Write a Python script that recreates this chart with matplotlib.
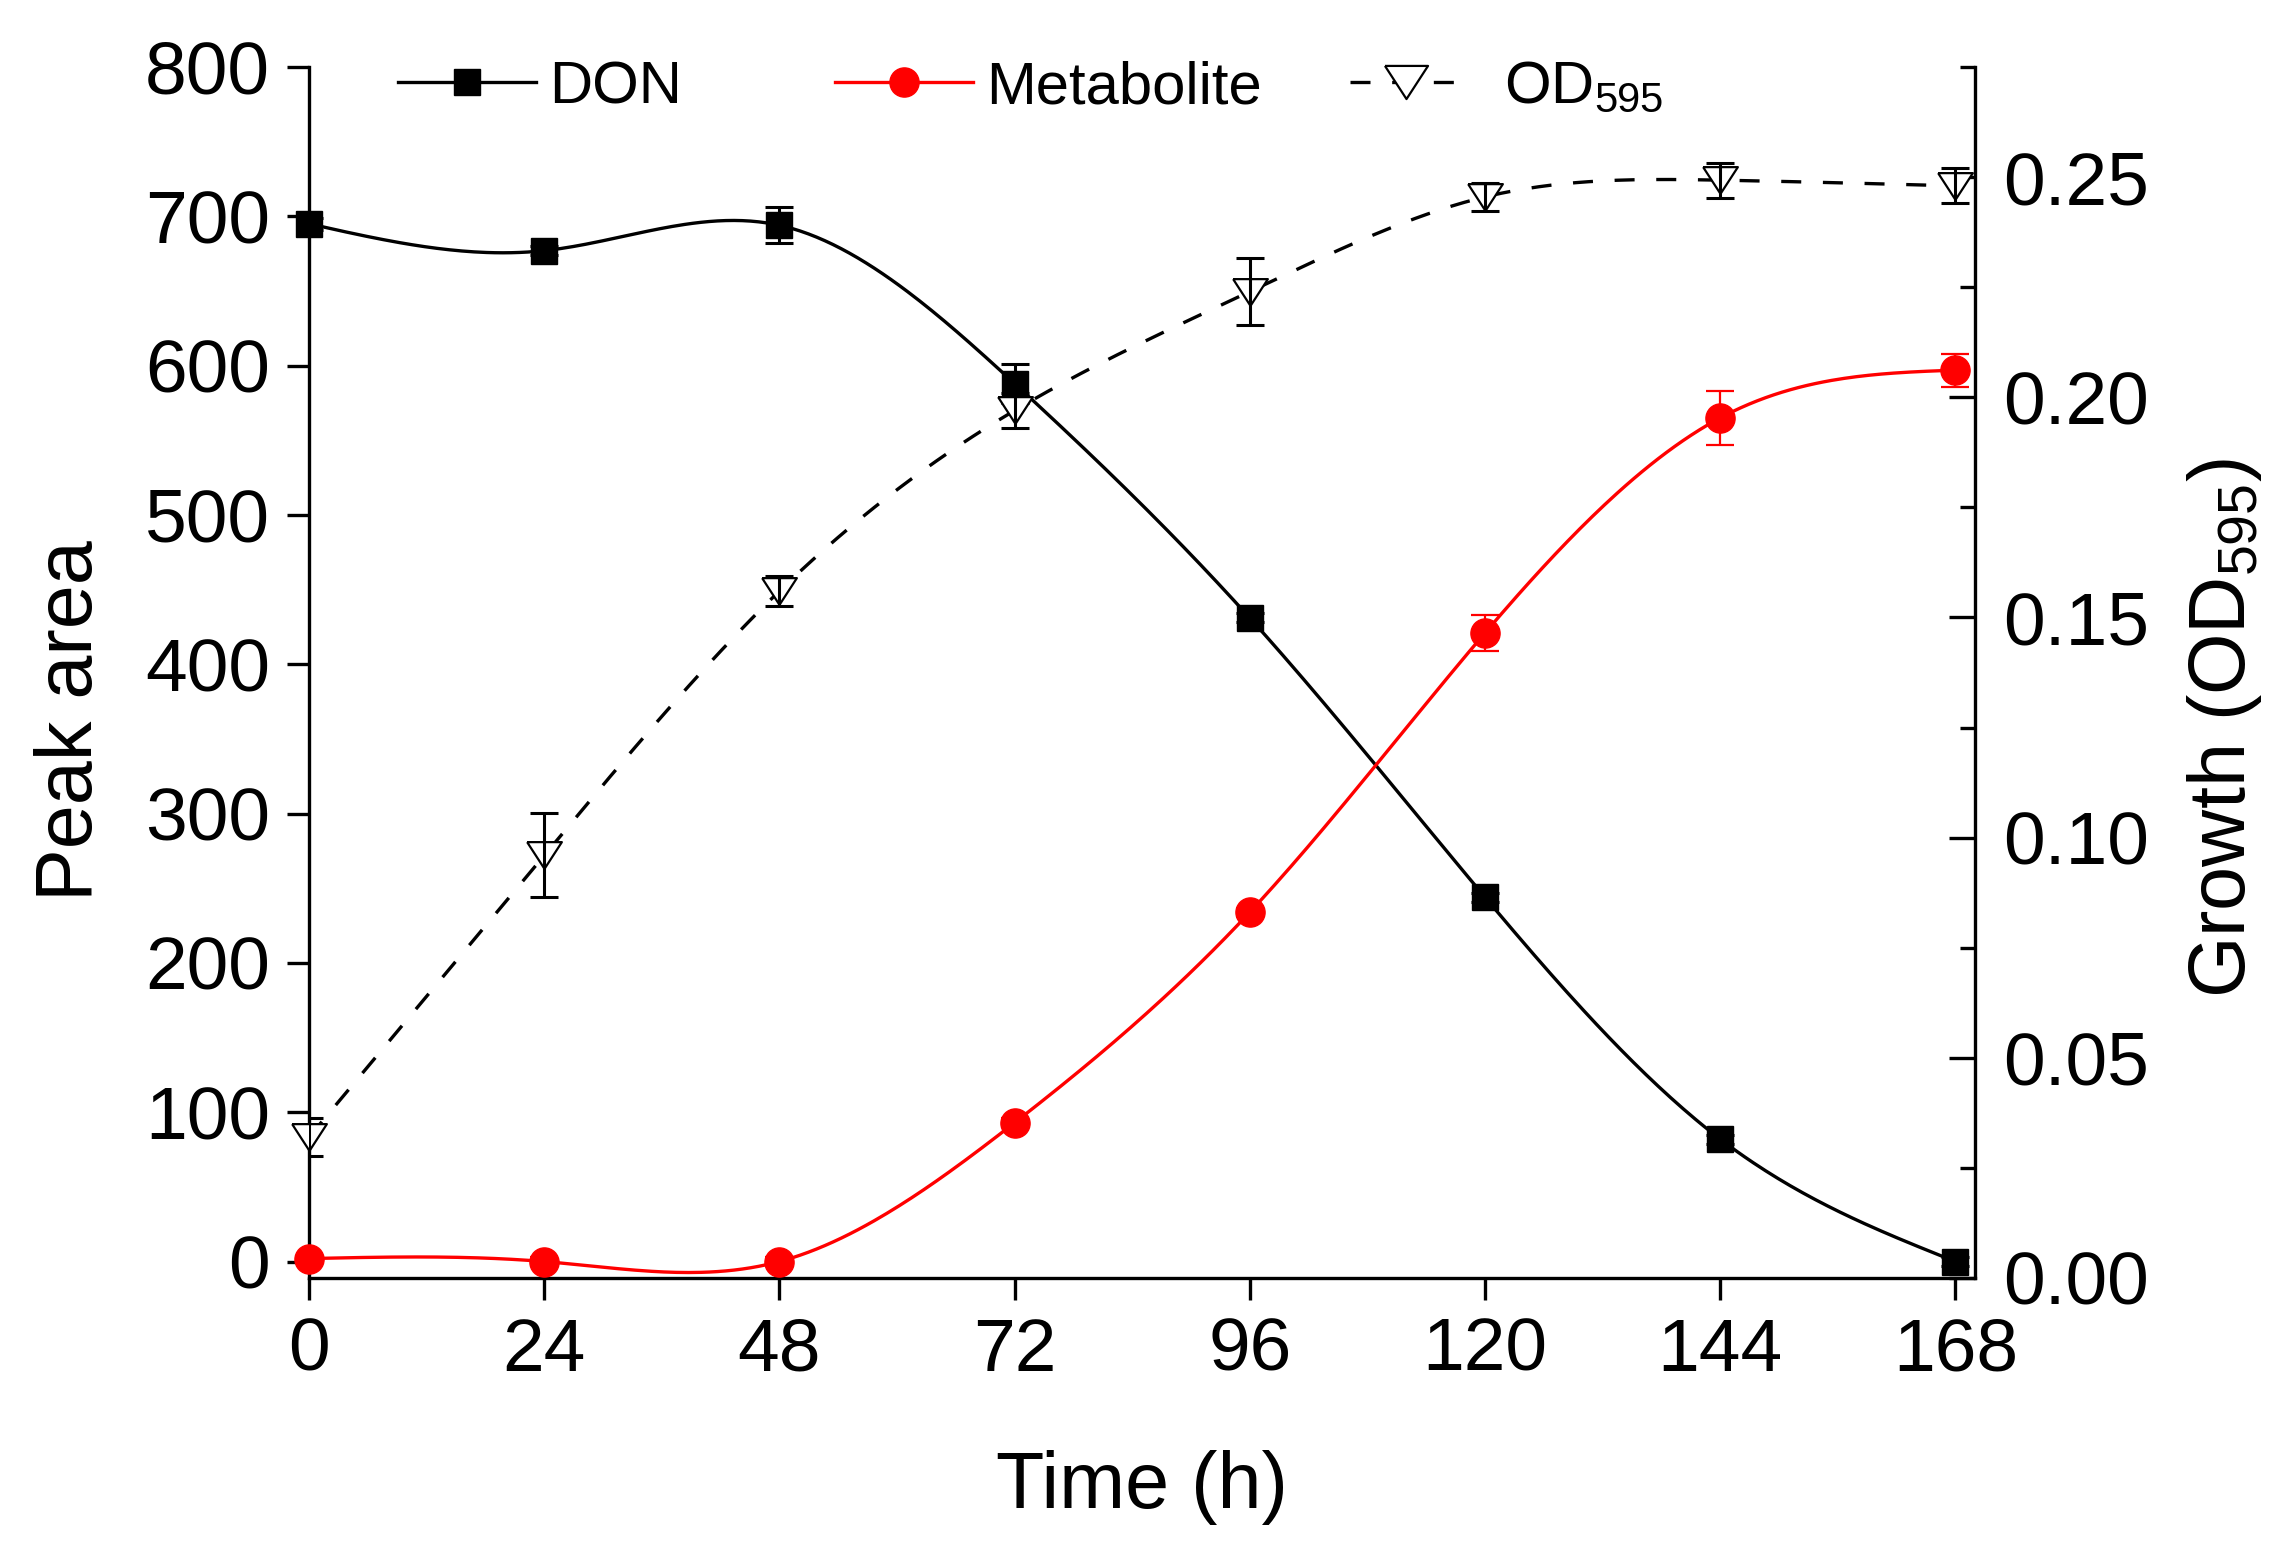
import numpy as np
import matplotlib
matplotlib.use("Agg")
import matplotlib.pyplot as plt
from matplotlib.lines import Line2D
from matplotlib.ticker import MultipleLocator, FormatStrFormatter

plt.rcParams['font.family'] = 'Liberation Sans'
plt.rcParams['mathtext.fontset'] = 'custom'
plt.rcParams['mathtext.rm'] = 'Liberation Sans'
plt.rcParams['mathtext.default'] = 'regular'

# values
time_h = [0, 24, 48, 72, 96, 120, 144, 168]
don = [695, 677, 694, 588, 431, 244, 82, 0]
don_err = [4, 3, 12, 13, 3, 3, 3, 3]
metabolite = [2, 0, 0, 93, 234, 421, 565, 597]
metab_err = [3, 3, 3, 3, 3, 12, 18, 11]
od595 = [0.032, 0.096, 0.156, 0.197, 0.224, 0.2455, 0.2493, 0.248]
od_err = [0.0043, 0.0095, 0.0035, 0.004, 0.0076, 0.0032, 0.004, 0.004]


# natural cubic spline through the points, for the smooth connecting lines
def spline(x, y, num=400):
    x = np.asarray(x, float)
    y = np.asarray(y, float)
    n = len(x)
    h = np.diff(x)
    A = np.zeros((n, n))
    b = np.zeros(n)
    A[0, 0] = A[-1, -1] = 1
    for i in range(1, n - 1):
        A[i, i - 1] = h[i - 1]
        A[i, i] = 2 * (h[i - 1] + h[i])
        A[i, i + 1] = h[i]
        b[i] = 6 * ((y[i + 1] - y[i]) / h[i] - (y[i] - y[i - 1]) / h[i - 1])
    M = np.linalg.solve(A, b)
    xs = np.linspace(x[0], x[-1], num)
    k = np.clip(np.searchsorted(x, xs) - 1, 0, n - 2)
    t1 = x[k + 1] - xs
    t2 = xs - x[k]
    hk = h[k]
    ys = (M[k] * t1**3 + M[k + 1] * t2**3) / (6 * hk) \
        + (y[k] / hk - M[k] * hk / 6) * t1 + (y[k + 1] / hk - M[k + 1] * hk / 6) * t2
    return xs, ys


fig = plt.figure(figsize=(22.96, 15.47), dpi=100)
ax = fig.add_axes([0.1346, 0.1739, 0.7256, 0.7828])
ax2 = ax.twinx()

lw = 2.4
red = '#ff0000'
dash = (0, (6, 6.5))
# flat open triangle, wider than tall
tri = [(-1, 0.77), (1, 0.77), (0, -0.77), (-1, 0.77)]

# DON
xs, ys = spline(time_h, don)
ax.plot(xs, ys, color='k', lw=lw, zorder=3)
ax.errorbar(time_h, don, yerr=don_err, fmt='none', ecolor='k', elinewidth=2.2,
            capsize=10, capthick=2.2, zorder=4)
ax.plot(time_h, don, ls='none', marker='s', ms=19, color='k', zorder=5, clip_on=False)

# Metabolite
xs, ys = spline(time_h, metabolite)
ax.plot(xs, ys, color=red, lw=lw, zorder=3)
ax.errorbar(time_h, metabolite, yerr=metab_err, fmt='none', ecolor=red, elinewidth=1.6,
            capsize=10, capthick=1.6, zorder=4)
ax.plot(time_h, metabolite, ls='none', marker='o', ms=21, color=red, zorder=5, clip_on=False)

# OD595
xs, ys = spline(time_h, od595)
ax2.plot(xs, ys, color='k', lw=lw, ls=dash, zorder=3)
ax2.plot(time_h, od595, ls='none', marker=tri, ms=25, mfc='white', mec='k', mew=1.6,
         zorder=4, clip_on=False)
ax2.errorbar(time_h, od595, yerr=od_err, fmt='none', ecolor='k', elinewidth=2.2,
             capsize=10, capthick=2.2, zorder=5)

ax.set_xlim(0, 170)
ax.set_ylim(-11, 800)
ax2.set_ylim(0, 0.275)
ax.set_xticks(time_h)
ax.yaxis.set_major_locator(MultipleLocator(100))
ax2.yaxis.set_major_locator(MultipleLocator(0.05))
ax2.yaxis.set_minor_locator(MultipleLocator(0.025))
ax2.yaxis.set_major_formatter(FormatStrFormatter('%.2f'))

for a in (ax, ax2):
    a.spines['top'].set_visible(False)
    for s in a.spines.values():
        s.set_linewidth(lw)
ax.spines['right'].set_visible(False)
ax2.spines['left'].set_visible(False)
ax2.spines['bottom'].set_visible(False)

ax.tick_params(axis='both', direction='out', length=16, width=lw, labelsize=54, pad=12)
ax2.tick_params(axis='y', which='major', direction='in', length=19, width=lw,
                labelsize=54, pad=20)
ax2.tick_params(axis='y', which='minor', direction='in', length=11, width=lw)

ax.set_xlabel('Time (h)', fontsize=57, labelpad=46)
ax.set_ylabel('Peak area', fontsize=57, labelpad=26)
ax2.set_ylabel('Growth (OD$_{595}$)', fontsize=57, labelpad=26)
ax.yaxis.label.set_y(0.46)
ax2.yaxis.label.set_y(0.454)

# one legend per entry so the gaps can follow the original
entries = [
    (Line2D([], [], color='k', lw=lw, marker='s', ms=19), 'DON', 0.0535, 2.3, 0.22),
    (Line2D([], [], color=red, lw=lw, marker='o', ms=21), 'Metabolite', 0.316, 2.3, 0.22),
    (Line2D([], [], color='k', lw=lw, ls=dash, marker=tri, ms=31,
            mfc='white', mec='k', mew=1.6), 'OD$_{595}$', 0.625, 1.85, 0.73),
]
legs = []
for h, lab, x0, hl, tp in entries:
    leg = ax2.legend([h], [lab], loc='center left', bbox_to_anchor=(x0, 0.983),
                     frameon=False, fontsize=43, handlelength=hl, handletextpad=tp,
                     borderpad=0, borderaxespad=0)
    legs.append(leg)
for leg in legs[:-1]:
    ax2.add_artist(leg)

fig.savefig('out.png', dpi=100)
